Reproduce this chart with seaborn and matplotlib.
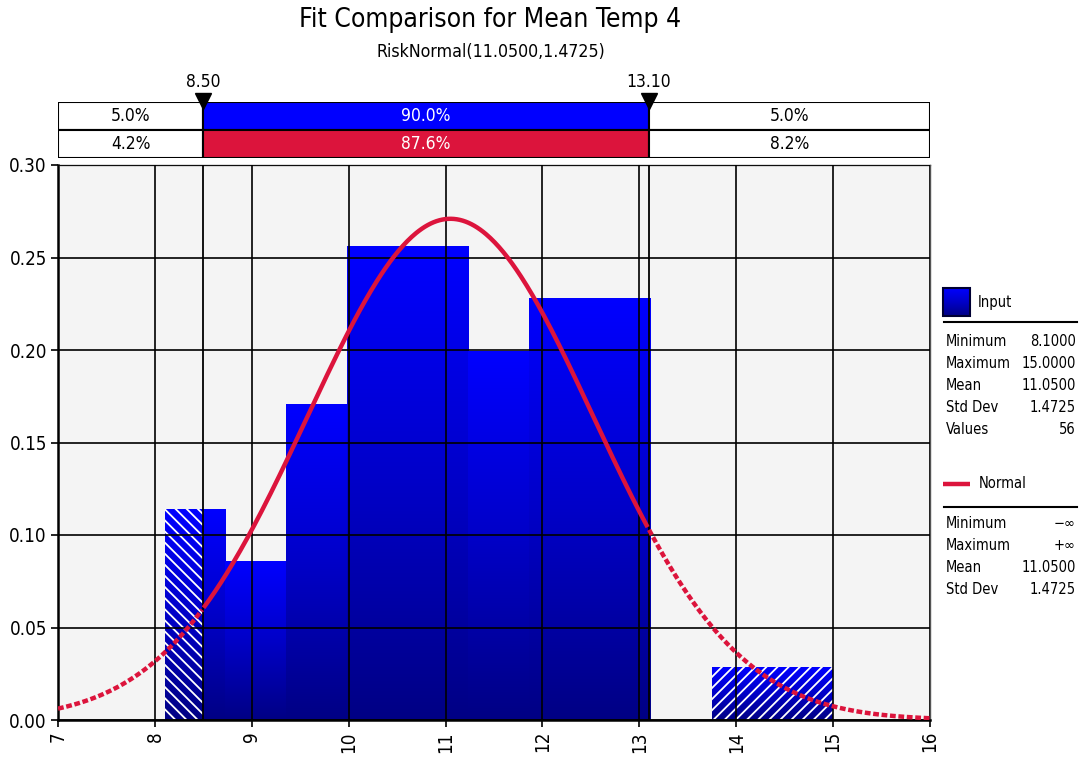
#!/usr/bin/env python3

import numpy as np
import matplotlib
matplotlib.use("Agg")
import matplotlib.pyplot as plt
import seaborn as sns
from matplotlib.colors import LinearSegmentedColormap
from matplotlib.patches import Rectangle

# data
bin_edges = [8.1, 8.7273, 9.3545, 9.9818, 10.6091, 11.2364,
             11.8636, 12.4909, 13.1182, 13.7455, 14.3727, 15.0]
bin_counts = [4, 3, 6, 9, 9, 7, 8, 8, 0, 1, 1]

fit_mean = 11.05
fit_std = 1.4725
marks = [8.50, 13.10]
input_pct = ["5.0%", "90.0%", "5.0%"]
fit_pct = ["4.2%", "87.6%", "8.2%"]

stat_names = ["Minimum", "Maximum", "Mean", "Std Dev", "Values"]
input_stats = ["8.1000", "15.0000", "11.0500", "1.4725", "56"]
fit_stat_names = ["Minimum", "Maximum", "Mean", "Std Dev"]
fit_stats = ["\u2212\u221e", "+\u221e", "11.0500", "1.4725"]

x_min, x_max = 7, 16
y_ticks = [0.00, 0.05, 0.10, 0.15, 0.20, 0.25, 0.30]

BLUE = "#0000FF"
NAVY = "#000084"
RED = "#DC143C"

plt.rcParams["font.family"] = ["DejaVu Sans"]
plt.rcParams["font.stretch"] = "condensed"
plt.rcParams["hatch.linewidth"] = 1.3
plt.rcParams["hatch.color"] = "white"

W, H = 1082, 763
fig = plt.figure(figsize=(W / 100, H / 100), dpi=100)


def fx(px):
    return px / W


def fy(py):
    return 1 - py / H


ax = fig.add_axes([fx(58), fy(720), fx(930 - 58), (720 - 165) / H])
ax.set_facecolor("#F4F4F4")

# histogram (density) from the bin counts
centers = [(a + b) / 2 for a, b in zip(bin_edges[:-1], bin_edges[1:])]
sns.histplot(x=centers, weights=bin_counts, bins=bin_edges, stat="density",
             ax=ax, element="bars")

grad_cmap = LinearSegmentedColormap.from_list("bluegrad", [NAVY, "#0000C8", BLUE])
grad = np.linspace(0, 1, 256).reshape(-1, 1)

bars = list(ax.patches)
for p in bars:
    p.set_facecolor("none")
    p.set_linewidth(0)
    x0, w, h = p.get_x(), p.get_width(), p.get_height()
    if h <= 0:
        continue
    ax.imshow(grad, cmap=grad_cmap, origin="lower", aspect="auto",
              extent=[x0, x0 + w, 0, h], zorder=1, interpolation="bicubic")

# hatched tails outside the marked range
for p in bars:
    x0, w, h = p.get_x(), p.get_width(), p.get_height()
    if h <= 0:
        continue
    if marks[0] - x0 > 0.03:
        ax.bar(x0, h, width=min(x0 + w, marks[0]) - x0, align="edge",
               facecolor="none", edgecolor="white", linewidth=0,
               hatch="\\\\\\", zorder=1.5)
    if x0 + w - marks[1] > 0.03:
        left = max(x0, marks[1])
        ax.bar(left, h, width=x0 + w - left, align="edge",
               facecolor="none", edgecolor="white", linewidth=0,
               hatch="///", zorder=1.5)

# fitted normal curve
xs = np.linspace(x_min, x_max, 600)
ys = np.exp(-0.5 * ((xs - fit_mean) / fit_std) ** 2) / (fit_std * np.sqrt(2 * np.pi))
inside = (xs >= marks[0]) & (xs <= marks[1])
sns.lineplot(x=xs[inside], y=ys[inside], ax=ax, color=RED, lw=3.2,
             zorder=4, solid_capstyle="butt")
for sel in [xs <= marks[0], xs >= marks[1]]:
    ax.plot(xs[sel], ys[sel], color=RED, lw=3.2, zorder=4,
            linestyle=(0, (1.3, 0.6)), dash_capstyle="butt")

for m in marks:
    ax.axvline(m, color="black", lw=1.3, zorder=3)

ax.set_xlim(x_min, x_max)
ax.set_ylim(0, 0.30)
ax.set_xticks(range(x_min, x_max + 1))
ax.set_yticks(y_ticks)
ax.set_yticklabels([f"{v:.2f}" for v in y_ticks])
ax.set_xlabel("")
ax.set_ylabel("")
ax.grid(True, color="black", lw=1.2)
ax.set_axisbelow(False)
for line in ax.get_xgridlines() + ax.get_ygridlines():
    line.set_zorder(2.5)
ax.tick_params(axis="both", labelsize=13.5, length=5, width=1.2, color="black")
ax.tick_params(axis="x", labelrotation=90, pad=3)
ax.tick_params(axis="y", pad=3)
for side in ["left", "bottom"]:
    ax.spines[side].set_linewidth(1.8)
    ax.spines[side].set_color("black")
for side in ["top", "right"]:
    ax.spines[side].set_linewidth(1.0)
    ax.spines[side].set_color("#555555")

# percentile table above the plot
tax = fig.add_axes([fx(58), fy(158), fx(930 - 58), (158 - 102) / H])
tax.set_xlim(x_min, x_max)
tax.set_ylim(0, 2)
seg_left = [x_min, marks[0], marks[1]]
seg_width = [marks[0] - x_min, marks[1] - marks[0], x_max - marks[1]]
for row_y, labels, mid_col in [(1.5, input_pct, BLUE), (0.5, fit_pct, RED)]:
    cols = ["white", mid_col, "white"]
    tax.barh([row_y] * 3, seg_width, left=seg_left, height=1.0, color=cols,
             edgecolor="black", linewidth=1.5)
    for l, w, lab, c in zip(seg_left, seg_width, labels, cols):
        tax.text(l + w / 2, row_y, lab, ha="center", va="center",
                 fontsize=12.5, color="white" if c != "white" else "black")
tax.axis("off")
for m in marks:
    tax.plot([m], [2.05], marker="v", color="black", markersize=11,
             clip_on=False, zorder=5)
    tax.text(m, 2.72, f"{m:.2f}", ha="center", va="center", fontsize=12.5,
             clip_on=False)

fig.text(fx(490), fy(20), "Fit Comparison for Mean Temp 4", ha="center",
         va="center", fontsize=19)
fig.text(fx(491), fy(52), "RiskNormal(11.0500,1.4725)", ha="center",
         va="center", fontsize=12.7)

# legend panel on the right (pixel coordinates)
lax = fig.add_axes([0, 0, 1, 1], facecolor="none")
lax.set_xlim(0, W)
lax.set_ylim(H, 0)
lax.axis("off")
lax.imshow(grad, cmap=grad_cmap, origin="lower", aspect="auto",
           extent=[943, 970, 316, 288])
lax.add_patch(Rectangle((943, 288), 27, 28, fill=False, edgecolor="#000033", lw=1.5))
lax.set_xlim(0, W)
lax.set_ylim(H, 0)
lax.text(978, 302, "Input", va="center", fontsize=10.5)
lax.plot([944, 1077], [322, 322], color="black", lw=1.5)
for i, (n, v) in enumerate(zip(stat_names, input_stats)):
    y = 341 + i * 22.2
    lax.text(946, y, n, va="center", fontsize=10.5)
    lax.text(1076, y, v, va="center", ha="right", fontsize=10.5)

lax.plot([943, 970], [484, 484], color=RED, lw=3.2, solid_capstyle="butt")
lax.text(979, 484, "Normal", va="center", fontsize=10.5)
lax.plot([944, 1077], [507, 507], color="black", lw=1.5)
for i, (n, v) in enumerate(zip(fit_stat_names, fit_stats)):
    y = 523 + i * 22.2
    lax.text(946, y, n, va="center", fontsize=10.5)
    lax.text(1076, y, v, va="center", ha="right", fontsize=10.5)

fig.savefig("out.png", dpi=100)
